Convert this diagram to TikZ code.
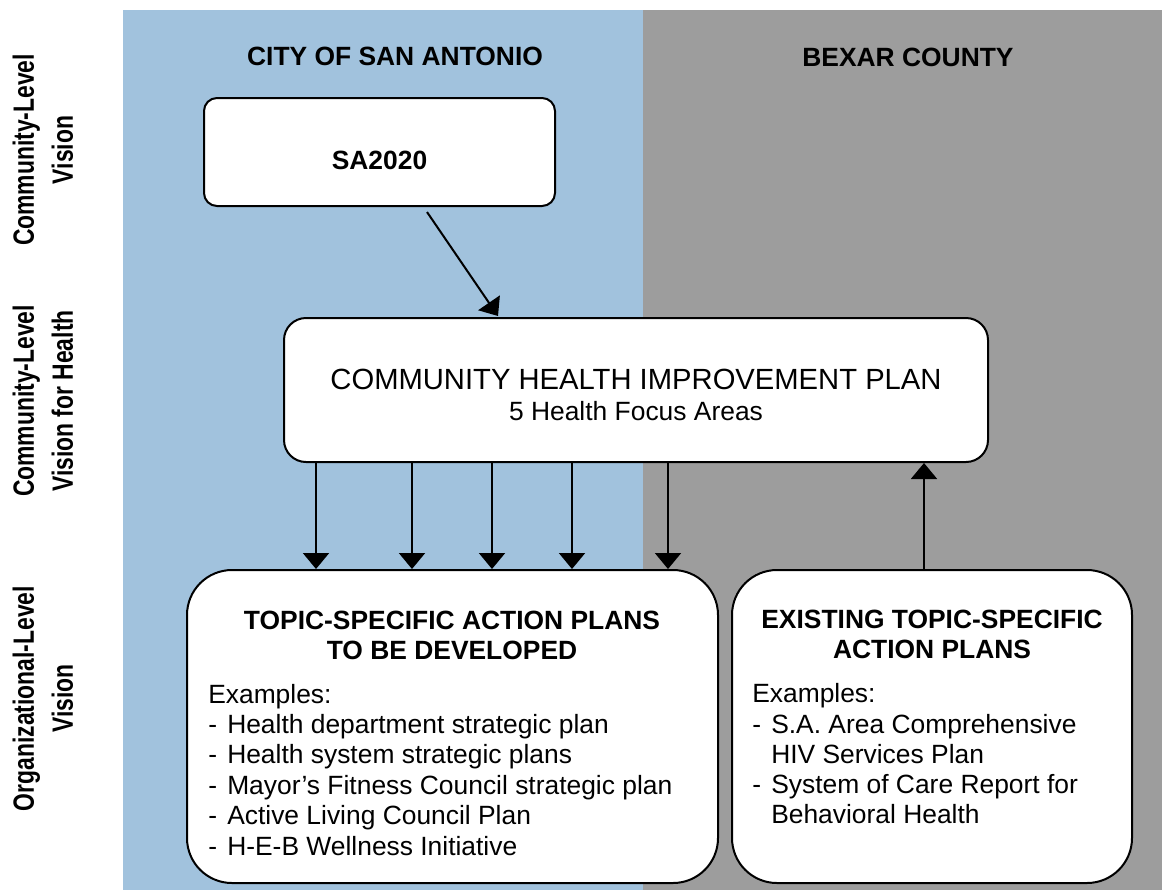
\documentclass[tikz,border=0pt]{standalone}
\usepackage{fontspec}
\setmainfont{Liberation Sans}
\newfontfamily\narrowfont[FakeStretch=0.78]{Liberation Sans}
\usetikzlibrary{arrows.meta,calc}
\definecolor{cityblue}{RGB}{161,194,221}
\definecolor{countygray}{RGB}{157,157,157}
\newcommand\dashitem[1]{\makebox[14.25pt][l]{-}#1}
\begin{document}
\begin{tikzpicture}[x=0.75pt,y=-0.75pt,
  box/.style={draw=black, line width=1.5pt, fill=white, inner sep=0pt},
  arr/.style={line width=1.5pt, -{Triangle[width=19.5pt,length=12pt]}},
  head/.style={font=\fontsize{19.8pt}{23pt}\selectfont\bfseries, anchor=base, inner sep=0pt},
  body/.style={font=\fontsize{19.8pt}{23pt}\selectfont, anchor=base west, inner sep=0pt},
  side/.style={font=\narrowfont\bfseries\fontsize{22pt}{29.25pt}\selectfont, rotate=90, align=center, inner sep=0pt}
]
\useasboundingbox (0,0) rectangle (1162,890);
\fill[white] (0,0) rectangle (1162,890);
\fill[cityblue] (123,10) rectangle (643,890);
\fill[countygray] (643,10) rectangle (1162,890);

% side labels
\node[side] (lab1) at (43,150) {Community-Level\\Vision};
\node[side] (lab2) at (43,401) {Community-Level\\Vision for Health};
\node[side] (lab3) at (43,698.5) {Organizational-Level\\Vision};

% column headers
\node[head] (city) at (395,65) {CITY OF SAN ANTONIO};
\node[head] (bexar) at (908,66) {BEXAR COUNTY};

% boxes
\node[box, rounded corners=9.75pt, minimum width=263.25pt, minimum height=81pt] (sa) at (379.5,152) {};
\node[box, rounded corners=16.5pt, minimum width=528pt, minimum height=108pt] (chip) at (636,390) {};
\node[box, rounded corners=33.75pt, minimum width=398.25pt, minimum height=234.75pt] (topic) at (452.5,726.5) {};
\node[box, rounded corners=33.75pt, minimum width=300pt, minimum height=234.75pt] (exist) at (932,726.5) {};

% box texts
\node[head] (satext) at (379.5,169) {SA2020};
\node[anchor=base, inner sep=0pt, font=\fontsize{21.9pt}{26pt}\selectfont] (chipt1) at (636,389) {COMMUNITY HEALTH IMPROVEMENT PLAN};
\node[anchor=base, inner sep=0pt, font=\fontsize{19.8pt}{23pt}\selectfont] (chipt2) at (636,420) {5 Health Focus Areas};

\node[head] (tt1) at (452,629) {TOPIC-SPECIFIC ACTION PLANS};
\node[head] (tt2) at (452,659) {TO BE DEVELOPED};
\node[body] (lt0) at (208,703) {Examples:};
\node[body] (lt1) at (208,733.4) {\dashitem{Health department strategic plan}};
\node[body] (lt2) at (208,763.8) {\dashitem{Health system strategic plans}};
\node[body] (lt3) at (208,794.2) {\dashitem{Mayor’s Fitness Council strategic plan}};
\node[body] (lt4) at (208,824.6) {\dashitem{Active Living Council Plan}};
\node[body] (lt5) at (208,855) {\dashitem{H-E-B Wellness Initiative}};

\node[head] (et1) at (932,628) {EXISTING TOPIC-SPECIFIC};
\node[head] (et2) at (932,658) {ACTION PLANS};
\node[body] (rt0) at (752,702) {Examples:};
\node[body] (rt1) at (752,733) {\dashitem{S.A. Area Comprehensive}};
\node[body] (rt2) at (771,763) {HIV Services Plan};
\node[body] (rt3) at (752,793) {\dashitem{System of Care Report for}};
\node[body] (rt4) at (771,823) {Behavioral Health};

% connectors
\draw[arr] ($(sa.south)+(47.5,5)$) -- ($(chip.north)+(-138,-1)$);
\foreach \x [count=\i] in {316,412,492,572,668} {
  \coordinate (dx\i) at (\x,0);
  \draw[arr] (dx\i |- chip.south) -- (dx\i |- topic.north);
}
\coordinate (ux) at (924,0);
\draw[arr] (ux |- exist.north) -- (ux |- chip.south);
\end{tikzpicture}
\end{document}
